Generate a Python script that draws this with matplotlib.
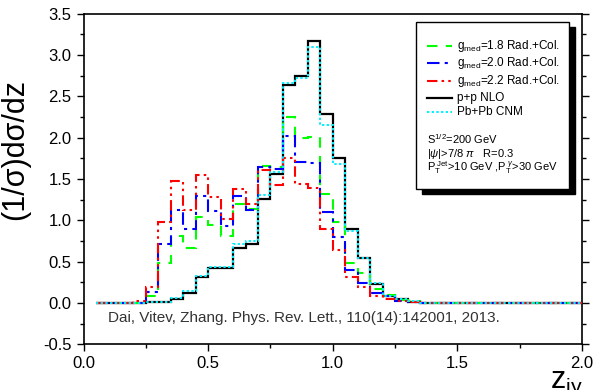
import numpy as np
import matplotlib
matplotlib.use("Agg")
import matplotlib.pyplot as plt
from matplotlib.lines import Line2D
from matplotlib.patches import Rectangle

plt.rcParams['font.family'] = ['Liberation Sans', 'DejaVu Sans']
plt.rcParams['mathtext.fontset'] = 'custom'
plt.rcParams['mathtext.rm'] = 'Liberation Sans'
plt.rcParams['mathtext.it'] = 'Liberation Sans:italic'

# z_jgamma bin edges (width 0.05, from 0.05 to 2.0)
z_edges = np.round(np.arange(0.05, 2.0001, 0.05), 2)

# (1/sigma) dsigma/dz per bin, first 26 bins; remaining bins are zero
pp_nlo = [0, 0, 0, 0, 0.01, 0.01, 0.05, 0.12, 0.31, 0.42, 0.42, 0.66, 0.71,
          1.26, 1.56, 2.64, 2.75, 3.17, 2.28, 1.75, 0.90, 0.54, 0.23, 0.09,
          0.05, 0.01]
pbpb_cnm = [0, 0, 0, 0, 0.01, 0.01, 0.06, 0.14, 0.33, 0.44, 0.44, 0.71, 0.75,
            1.31, 1.59, 2.66, 2.72, 3.10, 2.15, 1.68, 0.87, 0.55, 0.24, 0.09,
            0.05, 0.02]
g18 = [0, 0, 0, 0, 0.08, 0.48, 0.81, 0.67, 1.04, 0.94, 0.81, 1.20, 1.14,
       1.66, 1.65, 2.25, 1.99, 2.01, 1.32, 0.98, 0.49, 0.36, 0.17, 0.10,
       0.04, 0.02]
g20 = [0, 0, 0, 0, 0.13, 0.71, 1.13, 0.90, 1.30, 1.11, 0.93, 1.30, 1.12,
       1.65, 1.62, 2.02, 1.70, 1.69, 1.10, 0.80, 0.40, 0.24, 0.12, 0.08,
       0.03, 0.01]
g22 = [0, 0, 0, 0.03, 0.20, 0.98, 1.48, 1.12, 1.55, 1.28, 1.02, 1.38, 1.20,
       1.61, 1.43, 1.75, 1.44, 1.39, 0.89, 0.64, 0.31, 0.19, 0.08, 0.05,
       0.02, 0.01]

labels = [r"g$_{\rm med}$=1.8 Rad.+Col.", r"g$_{\rm med}$=2.0 Rad.+Col.",
          r"g$_{\rm med}$=2.2 Rad.+Col.", "p+p NLO", "Pb+Pb CNM"]
info_lines = [r"S$^{1/2}$=200 GeV", r"|$\psi$|>7/8 $\pi$   R=0.3",
              r"P$_{\rm T}^{\ \rm Jet}$>10 GeV ,P$_{\rm T}^{\ \gamma}$>30 GeV"]
citation = "Dai, Vitev, Zhang. Phys. Rev. Lett., 110(14):142001, 2013."

n_bins = len(z_edges) - 1


def full(v):
    return np.concatenate([v, np.zeros(n_bins - len(v))])


styles = [
    dict(color='#00ff00', lw=1.5, linestyle=(0, (5, 4))),
    dict(color='#0000ff', lw=1.5, linestyle=(0, (6, 2.5, 1.5, 2.5))),
    dict(color='#ff0000', lw=1.5, linestyle=(0, (5, 2, 1.2, 2, 1.2, 2))),
    dict(color='black', lw=1.6, linestyle='-'),
    dict(color='#00f0ff', lw=1.4, linestyle=(0, (1.2, 1.2))),
]
series = [g18, g20, g22, pp_nlo, pbpb_cnm]

W, H = 597, 390
fig = plt.figure(figsize=(W / 100, H / 100), dpi=100)
ax = fig.add_axes([83.5 / W, 1 - 344.4 / H, (582 - 83.5) / W, (344.4 - 13.6) / H])

draw_order = [3, 4, 0, 1, 2]
for k in draw_order:
    ax.stairs(full(series[k]), z_edges, baseline=None, zorder=3 + (k == 4), **styles[k])

ax.set_xlim(0, 2.0)
ax.set_ylim(-0.5, 3.5)
ax.set_xticks(np.arange(0, 2.01, 0.5))
ax.set_xticks(np.arange(0, 2.01, 0.25), minor=True)
ax.set_yticks(np.arange(-0.5, 3.51, 0.5))
ax.set_yticks(np.arange(-0.5, 3.51, 0.25), minor=True)
ax.xaxis.set_major_formatter(matplotlib.ticker.FormatStrFormatter('%.1f'))
ax.yaxis.set_major_formatter(matplotlib.ticker.FormatStrFormatter('%.1f'))
ax.tick_params(which='both', direction='out', labelsize=12, width=1.0,
               right=True, top=False)
ax.tick_params(which='major', length=5)
ax.tick_params(which='minor', length=3)
for s in ax.spines.values():
    s.set_linewidth(1.2)

ax.set_ylabel("(1/σ)dσ/dz", fontsize=22)
ax.yaxis.set_label_coords((30 - 83.5) / 498.5, (344.4 - 150) / 330.8)
fig.text(566 / W, 1 - 384 / H, r"z$_{\rm j\gamma}$", fontsize=22,
         ha='center', va='center')


def fx(x):
    return x / W


def fy(y):
    return 1 - y / H


fig.text(fx(108), fy(318), citation, fontsize=11, color='#333333', va='center',
         family=['Liberation Sans Narrow', 'Liberation Sans'])

# legend box with a solid drop shadow
bx0, bx1, by0, by1 = 416, 569, 22, 189
fig.patches.append(Rectangle((fx(bx0 + 6), fy(by1 + 5)), fx(bx1 - bx0), fy(by0) - fy(by1),
                             transform=fig.transFigure, facecolor='black',
                             edgecolor='black', zorder=5))
fig.patches.append(Rectangle((fx(bx0), fy(by1)), fx(bx1 - bx0), fy(by0) - fy(by1),
                             transform=fig.transFigure, facecolor='white',
                             edgecolor='black', lw=1.0, zorder=6))

entry_y = [46, 63, 81, 98, 112]
for k, (lab, yy) in enumerate(zip(labels, entry_y)):
    fig.lines.append(Line2D([fx(427), fx(452)], [fy(yy), fy(yy)],
                            transform=fig.transFigure, zorder=7, **styles[k]))
    fig.text(fx(457), fy(yy), lab, fontsize=8.5, va='center', ha='left', zorder=7)

for txt, yy in zip(info_lines, [139, 154, 168]):
    fig.text(fx(427), fy(yy), txt, fontsize=8, va='center', ha='left', zorder=7)

fig.savefig("out.png", dpi=100)
